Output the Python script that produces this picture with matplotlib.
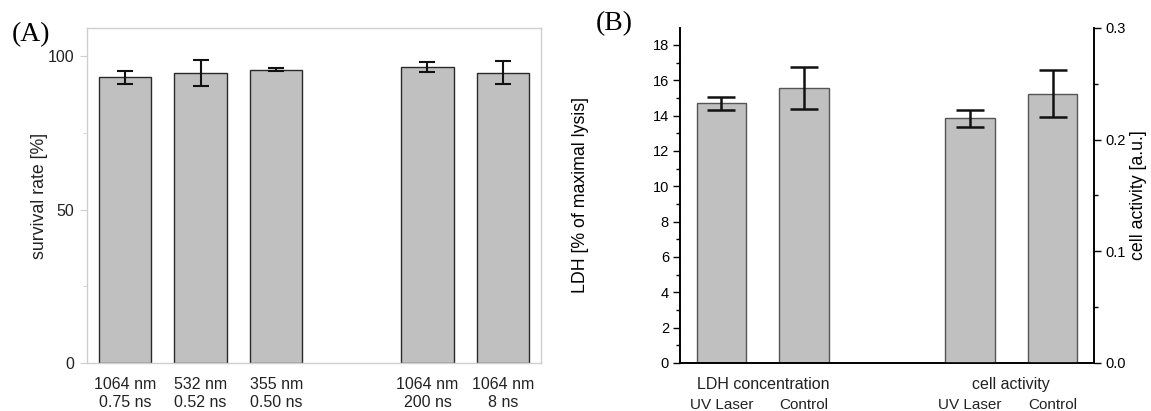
import numpy as np
import matplotlib.pyplot as plt
from matplotlib.ticker import MultipleLocator

plt.rcParams['font.family'] = ['Liberation Sans', 'DejaVu Sans']

# panel A data
a_labels = ['1064 nm\n0.75 ns', '532 nm\n0.52 ns', '355 nm\n0.50 ns', '1064 nm\n200 ns', '1064 nm\n8 ns']
a_pos = [0, 1, 2, 4, 5]
a_vals = [93.2, 94.7, 95.7, 96.6, 94.7]
a_err = [2.2, 4.2, 0.5, 1.5, 3.8]

# panel B data
ldh_labels = ['UV Laser', 'Control']
ldh_vals = [14.7, 15.57]
ldh_err = [0.38, 1.2]
act_labels = ['UV Laser', 'Control']
act_vals = [0.219, 0.241]
act_err = [0.0073, 0.021]

bar_color = '#c0c0c0'
frame_gray = '#cfcfcf'
txt = '#222222'

fig = plt.figure(figsize=(11.51, 4.11), dpi=100)

# ---- (A)
ax1 = fig.add_axes([0.0756, 0.1168, 0.3944, 0.8151])
ax1.bar(a_pos, a_vals, width=0.69, color=bar_color, edgecolor='#2a2a2a', linewidth=1.0)
ax1.errorbar(a_pos, a_vals, yerr=a_err, fmt='none', ecolor='#111111', elinewidth=1.5,
             capsize=6, capthick=1.5)
ax1.set_xlim(-0.5, 5.5)
ax1.set_ylim(0, 109.3)
ax1.set_yticks([0, 50, 100])
ax1.yaxis.set_minor_locator(MultipleLocator(25))
ax1.set_xticks(a_pos)
ax1.set_xticklabels(a_labels, fontsize=11.5, color=txt, linespacing=1.25)
ax1.tick_params(axis='x', length=0, pad=10)
ax1.tick_params(axis='y', which='major', length=5, color=frame_gray, labelsize=11.5,
                labelcolor=txt, pad=4)
ax1.tick_params(axis='y', which='minor', length=3, color=frame_gray)
for s in ax1.spines.values():
    s.set_color(frame_gray)
    s.set_linewidth(1.0)
ax1.set_ylabel('survival rate [%]', fontsize=12.8, color=txt, labelpad=0)
fig.text(0.010, 0.917, '(A)', fontsize=20, family='Liberation Serif', va='center')

# ---- (B)
ax2 = fig.add_axes([0.5908, 0.1168, 0.3597, 0.8151])
ax3 = ax2.twinx()
ax2.bar([0, 1], ldh_vals, width=0.6, color=bar_color, edgecolor='#555555', linewidth=1.0)
ax2.errorbar([0, 1], ldh_vals, yerr=ldh_err, fmt='none', ecolor='#111111', elinewidth=1.8,
             capsize=10, capthick=1.8)
ax3.bar([3, 4], act_vals, width=0.6, color=bar_color, edgecolor='#555555', linewidth=1.0)
ax3.errorbar([3, 4], act_vals, yerr=act_err, fmt='none', ecolor='#111111', elinewidth=1.8,
             capsize=10, capthick=1.8)
ax2.set_xlim(-0.5, 4.5)
ax2.set_ylim(0, 18.96)
ax3.set_ylim(0, 0.3)
ax2.set_yticks(np.arange(0, 19, 2))
ax2.yaxis.set_minor_locator(MultipleLocator(1))
ax3.set_yticks([0.0, 0.1, 0.2, 0.3])
ax3.set_yticklabels(['0.0', '0.1', '0.2', '0.3'])
ax3.yaxis.set_minor_locator(MultipleLocator(0.05))
ax2.set_xticks([0, 1, 3, 4])
ax2.set_xticklabels(ldh_labels + act_labels, fontsize=11, color=txt)
ax2.tick_params(axis='x', length=0, pad=25)
for ax in (ax2, ax3):
    ax.tick_params(axis='y', which='major', length=5, width=1.0, labelsize=10.5, pad=3)
    ax.tick_params(axis='y', which='minor', length=3, width=1.0)
    ax.spines['top'].set_visible(False)
    for s in ('left', 'right', 'bottom'):
        ax.spines[s].set_linewidth(1.2)
ax2.text(0.5, -0.065, 'LDH concentration', transform=ax2.get_xaxis_transform(),
         ha='center', va='center', fontsize=11.5, color=txt)
ax2.text(3.5, -0.065, 'cell activity', transform=ax2.get_xaxis_transform(),
         ha='center', va='center', fontsize=11.5, color=txt)
ax2.set_ylabel('LDH [% of maximal lysis]', fontsize=12.8, labelpad=46)
ax3.set_ylabel('cell activity [a.u.]', fontsize=12.8, rotation=90, labelpad=3)
fig.text(0.518, 0.942, '(B)', fontsize=20, family='Liberation Serif', va='center')

fig.savefig('out.png', dpi=100)
